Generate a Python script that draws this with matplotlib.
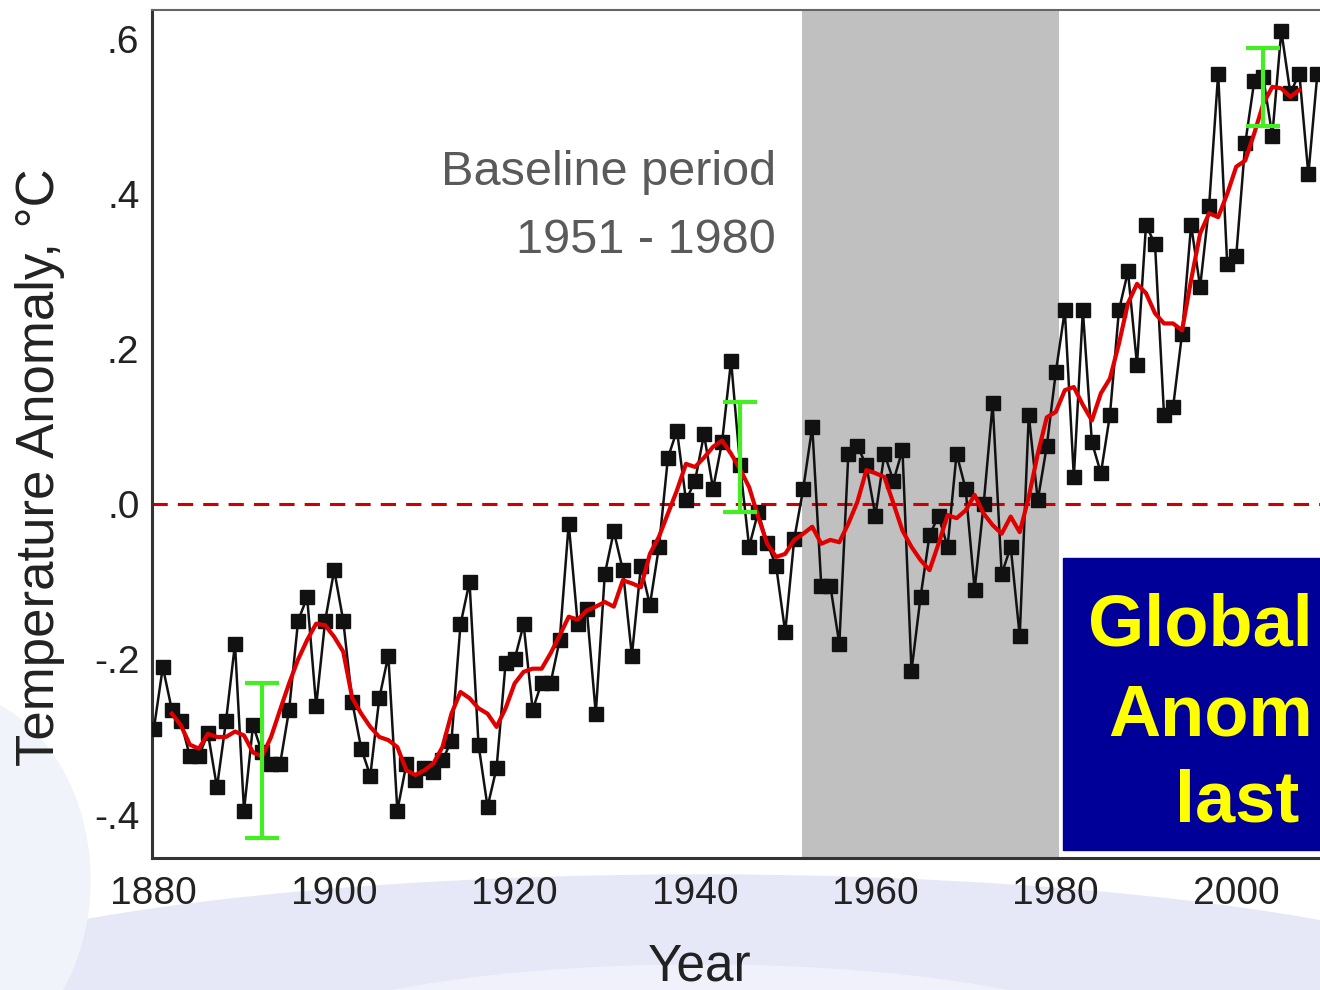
import matplotlib
matplotlib.use('Agg')
import matplotlib.pyplot as plt
from matplotlib.patches import Rectangle, Ellipse

plt.rcParams['font.family'] = ['Liberation Sans', 'DejaVu Sans']

# -------------------------------
# data
# -------------------------------
years = list(range(1880, 2010))
anomaly = [
    -0.29, -0.21, -0.265, -0.28, -0.325, -0.325, -0.295, -0.365, -0.28, -0.18,      # 1880s
    -0.395, -0.285, -0.32, -0.335, -0.335, -0.265, -0.15, -0.12, -0.26, -0.15,      # 1890s
    -0.085, -0.15, -0.255, -0.315, -0.35, -0.25, -0.195, -0.395, -0.335, -0.355,    # 1900s
    -0.34, -0.345, -0.33, -0.305, -0.155, -0.10, -0.31, -0.39, -0.34, -0.205,       # 1910s
    -0.20, -0.155, -0.265, -0.23, -0.23, -0.175, -0.025, -0.155, -0.135, -0.27,     # 1920s
    -0.09, -0.035, -0.085, -0.195, -0.08, -0.13, -0.055, 0.06, 0.095, 0.005,        # 1930s
    0.03, 0.09, 0.02, 0.08, 0.185, 0.05, -0.055, -0.01, -0.05, -0.08,               # 1940s
    -0.165, -0.045, 0.02, 0.10, -0.105, -0.105, -0.18, 0.065, 0.075, 0.05,          # 1950s
    -0.015, 0.065, 0.03, 0.07, -0.215, -0.12, -0.04, -0.015, -0.055, 0.065,         # 1960s
    0.02, -0.11, 0.0, 0.13, -0.09, -0.055, -0.17, 0.115, 0.005, 0.075,              # 1970s
    0.17, 0.25, 0.035, 0.25, 0.08, 0.04, 0.115, 0.25, 0.30, 0.18,                   # 1980s
    0.36, 0.335, 0.115, 0.125, 0.22, 0.36, 0.28, 0.385, 0.555, 0.31,                # 1990s
    0.32, 0.465, 0.545, 0.55, 0.475, 0.61, 0.53, 0.555, 0.425, 0.555,               # 2000s
]

# 5-year running mean (red)
smooth_years = list(range(1882, 2008))
smooth = [
    -0.27, -0.285, -0.31, -0.315, -0.296, -0.30, -0.30, -0.293,                     # 1882-89
    -0.298, -0.32, -0.325, -0.30, -0.265, -0.231, -0.20, -0.175, -0.154, -0.156,    # 1890s
    -0.171, -0.19, -0.25, -0.27, -0.287, -0.30, -0.304, -0.313, -0.343, -0.349,     # 1900s
    -0.343, -0.334, -0.313, -0.27, -0.242, -0.25, -0.263, -0.27, -0.287, -0.263,    # 1910s
    -0.231, -0.216, -0.212, -0.212, -0.192, -0.169, -0.145, -0.149, -0.137, -0.132, # 1920s
    -0.126, -0.132, -0.098, -0.102, -0.107, -0.064, -0.042, -0.012, 0.018, 0.052,   # 1930s
    0.048, 0.06, 0.074, 0.082, 0.065, 0.045, 0.022, -0.016, -0.051, -0.068,         # 1940s
    -0.064, -0.046, -0.038, -0.029, -0.051, -0.046, -0.049, -0.025, 0.003, 0.044,   # 1950s
    0.04, 0.035, 0.001, -0.034, -0.055, -0.072, -0.085, -0.051, -0.014, -0.018,     # 1960s
    -0.008, 0.012, -0.012, -0.027, -0.038, -0.016, -0.036, 0.009, 0.065, 0.112,     # 1970s
    0.119, 0.147, 0.151, 0.128, 0.108, 0.143, 0.162, 0.207, 0.259, 0.284,           # 1980s
    0.272, 0.246, 0.233, 0.233, 0.224, 0.289, 0.349, 0.375, 0.370, 0.40,            # 1990s
    0.435, 0.443, 0.478, 0.516, 0.538, 0.536, 0.525, 0.534,                         # 2000-07
]

# green uncertainty bars
err_years = [1892, 1945, 2003]
err_center = [-0.33, 0.061, 0.538]
err_half = [0.10, 0.071, 0.05]

xticks = [1880, 1900, 1920, 1940, 1960, 1980, 2000]
yticks = [-0.4, -0.2, 0.0, 0.2, 0.4, 0.6]
ytick_labels = ['-.4', '-.2', '.0', '.2', '.4', '.6']

shade_start, shade_end = 1951.9, 1980.3

# -------------------------------
# figure
# -------------------------------
fig = plt.figure(figsize=(13.2, 9.9), dpi=100)

# faint slide background swoosh
fig.add_artist(Ellipse((700, -30), 1700, 290, transform=None, color='#e7e8f7', zorder=0))
fig.add_artist(Ellipse((700, -70), 900, 190, transform=None, color='#f0f1fb', zorder=0))
fig.add_artist(Ellipse((-60, 110), 300, 380, transform=None, color='#f0f4fa', zorder=0))

ax = fig.add_axes([152 / 1320, 132 / 990, 1188 / 1320, 848 / 990])
ax.set_facecolor('white')
ax.set_xlim(1879.8, 1879.8 + 1188 / 9.02)
ax.set_ylim(-0.456, 0.637)

ax.axvspan(shade_start, shade_end, color='#c0c0c0', lw=0, zorder=1)
ax.axhline(0, color='#cc0000', lw=2.2, ls=(0, (5, 3.3)), zorder=2)

ax.plot(years, anomaly, color='#111111', lw=1.8, marker='s', ms=9.5,
        mfc='#111111', mec='#111111', zorder=3)
ax.plot(smooth_years, smooth, color='#e00000', lw=3.0, zorder=4)
ax.errorbar(err_years, err_center, yerr=err_half, fmt='none', ecolor='#44ee22',
            elinewidth=3, capsize=12, capthick=3, zorder=5)

ax.text(1949.0, 0.428, 'Baseline period', ha='right', va='center',
        fontsize=35, color='#5a5a5a', zorder=6)
ax.text(1949.0, 0.34, '1951 - 1980', ha='right', va='center',
        fontsize=35, color='#5a5a5a', zorder=6)

ax.set_xticks(xticks)
ax.set_yticks(yticks)
ax.set_yticklabels(ytick_labels)
ax.tick_params(axis='both', length=0, labelsize=28, colors='#222222')
ax.tick_params(axis='y', pad=9)
ax.tick_params(axis='x', pad=13)

ax.spines['right'].set_visible(False)
ax.spines['left'].set_color('#333333')
ax.spines['left'].set_linewidth(2.2)
ax.spines['bottom'].set_color('#333333')
ax.spines['bottom'].set_linewidth(2.2)
ax.spines['top'].set_color('#666666')
ax.spines['top'].set_linewidth(1.5)

fig.text(40 / 1320, 1 - 467 / 990, 'Temperature Anomaly, °C', rotation=90,
         ha='center', va='center', fontsize=38, color='#222222')
fig.text(700 / 1320, 1 - 967 / 990, 'Year', ha='center', va='center',
         fontsize=37, color='#222222')

# blue slide title box at the right
fig.add_artist(Rectangle((1063, 140), 320, 292, transform=None,
                         color='#000099', zorder=10))
fig.text(1088 / 1320, 345 / 990, 'Global', ha='left', va='baseline',
         fontsize=52, fontweight='bold', color='#ffff00', zorder=11)
fig.text(1108 / 1320, 255 / 990, 'Anom', ha='left', va='baseline',
         fontsize=52, fontweight='bold', color='#ffff00', zorder=11)
fig.text(1175 / 1320, 168 / 990, 'last', ha='left', va='baseline',
         fontsize=52, fontweight='bold', color='#ffff00', zorder=11)

fig.savefig('out.png', dpi=100)
